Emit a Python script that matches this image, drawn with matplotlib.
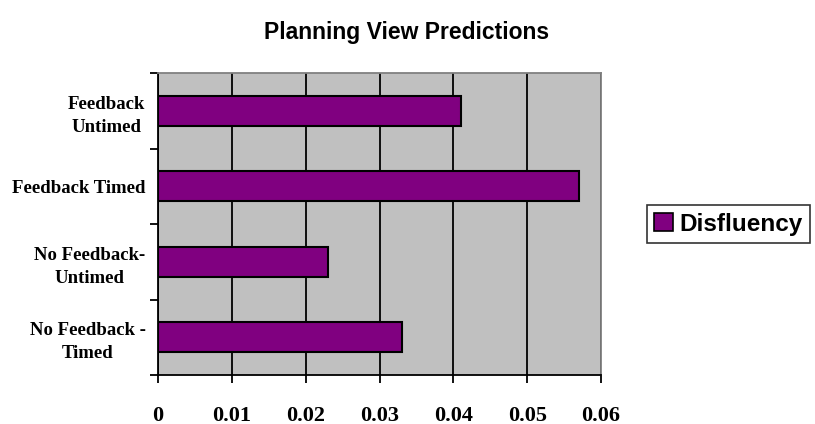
import matplotlib.pyplot as plt
from matplotlib.patches import Patch

# categories listed bottom to top
categories = ["No Feedback -\nTimed", "No Feedback-\nUntimed", "Feedback Timed", "Feedback\nUntimed"]
disfluency = [0.033, 0.023, 0.057, 0.041]
x_ticks = [0, 0.01, 0.02, 0.03, 0.04, 0.05, 0.06]
x_labels = ["0", "0.01", "0.02", "0.03", "0.04", "0.05", "0.06"]

W, H = 815, 424
fig = plt.figure(figsize=(W / 100, H / 100), dpi=100)
fig.patch.set_facecolor("white")

ax = fig.add_axes([158 / W, 1 - 375 / H, (601 - 158) / W, (375 - 73) / H])
ax.set_facecolor("#C0C0C0")

ax.barh(range(len(categories)), disfluency, height=0.4, color="#800080",
        edgecolor="black", linewidth=1.5, zorder=3)

ax.set_xlim(0, 0.06)
ax.set_ylim(-0.5, len(categories) - 0.5)

ax.set_xticks(x_ticks)
ax.set_xticklabels(x_labels, fontfamily="Liberation Serif", fontweight="bold", fontsize=16)
ax.xaxis.grid(True, color="black", linewidth=1.3, zorder=1)
ax.set_axisbelow(True)

# category labels sit between the tick marks
ax.set_yticks([i - 0.5 for i in range(len(categories) + 1)])
ax.set_yticklabels([])
ax.set_yticks(range(len(categories)), minor=True)
ax.set_yticklabels(categories, minor=True, fontfamily="Liberation Serif",
                   fontweight="bold", fontsize=13.5, multialignment="center",
                   linespacing=1.45)
ax.tick_params(axis="y", which="minor", length=0, pad=9)
ax.tick_params(axis="y", which="major", length=6, width=1.3, direction="out")
ax.tick_params(axis="x", length=6, width=1.3, direction="out", pad=16)

for side in ("left", "bottom"):
    ax.spines[side].set_color("black")
    ax.spines[side].set_linewidth(1.3)
for side in ("top", "right"):
    ax.spines[side].set_color("#808080")
    ax.spines[side].set_linewidth(1.3)

fig.text(407 / W, 1 - 32 / H, "Planning View Predictions", ha="center", va="center",
         fontfamily="Liberation Sans", fontweight="bold", fontsize=16.5)

handle = Patch(facecolor="#800080", edgecolor="black", linewidth=1.2)
leg = fig.legend([handle], ["Disfluency"], loc="center left",
                 bbox_to_anchor=(647 / W, 1 - 224 / H),
                 prop={"family": "Liberation Sans", "weight": "bold", "size": 17.5},
                 frameon=True, fancybox=False, handlelength=0.75, handleheight=0.75,
                 handletextpad=0.3, borderpad=0.3, borderaxespad=0)
leg.get_frame().set_edgecolor("black")
leg.get_frame().set_linewidth(1.2)

fig.savefig("out.png", dpi=100, facecolor="white")
